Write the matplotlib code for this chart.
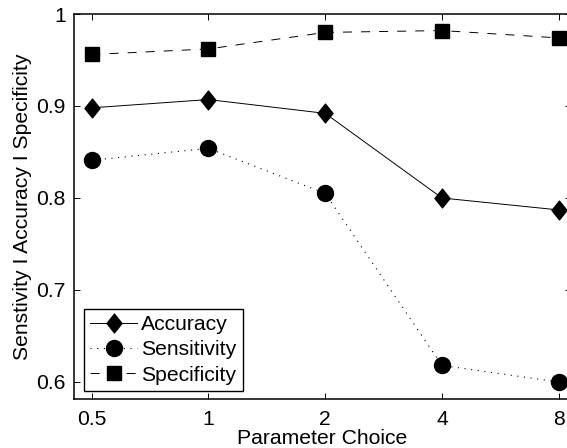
import matplotlib
matplotlib.use("Agg")
import matplotlib.pyplot as plt
from matplotlib.path import Path

params = [0.5, 1, 2, 4, 8]
tick_labels = ["0.5", "1", "2", "4", "8"]
accuracy = [0.898, 0.907, 0.892, 0.800, 0.787]
sensitivity = [0.841, 0.854, 0.805, 0.618, 0.600]
specificity = [0.956, 0.962, 0.980, 0.982, 0.974]

plt.rcParams['font.family'] = ['Liberation Sans', 'DejaVu Sans']
plt.rcParams['lines.scale_dashes'] = False
FS = 15.2

fig = plt.figure(figsize=(5.67, 4.48), dpi=100)
ax = fig.add_axes([74/567, 1-399/448, (571-74)/567, (399-14)/448])

diamond = Path([(0, 1), (0.8, 0), (0, -1), (-0.8, 0), (0, 1)],
               [Path.MOVETO, Path.LINETO, Path.LINETO, Path.LINETO, Path.CLOSEPOLY])

ax.plot(params, accuracy, color='black', lw=0.7, linestyle='-',
        marker=diamond, markersize=13.5, markerfacecolor='black', markeredgecolor='black',
        label='Accuracy', clip_on=False)
ax.plot(params, sensitivity, color='black', lw=0.8, linestyle=(0, (0.8, 4.0)),
        marker='o', markersize=11.5, markerfacecolor='black', markeredgecolor='black',
        label='Sensitivity', clip_on=False)
ax.plot(params, specificity, color='black', lw=0.7, linestyle=(0, (6.5, 6.5)),
        marker='s', markersize=9.5, markerfacecolor='black', markeredgecolor='black',
        label='Specificity', clip_on=False)

ax.set_xscale('log')
ax.set_xlim(0.4506, 8.60)
ax.set_ylim(0.5815, 1.0)
ax.set_xticks(params)
ax.set_xticklabels(tick_labels)
ax.minorticks_off()
ax.set_yticks([0.6, 0.7, 0.8, 0.9, 1.0])
ax.set_yticklabels(["0.6", "0.7", "0.8", "0.9", "1"])
ax.tick_params(axis='both', direction='in', length=4, width=0.7, top=True, right=True,
               labelsize=FS, colors='black')
ax.tick_params(axis='x', pad=8)
ax.tick_params(axis='y', pad=6)
for s in ax.spines.values():
    s.set_linewidth(1.1)

ax.set_xlabel('Parameter Choice', fontsize=FS, labelpad=0)
ax.set_ylabel('Senstivity I Accuracy I Specificity', fontsize=FS, labelpad=3)

leg = ax.legend(loc='lower left', bbox_to_anchor=(84/567, 1-391/448),
                bbox_transform=fig.transFigure, borderaxespad=0,
                fontsize=FS, frameon=True, fancybox=False, edgecolor='black',
                framealpha=1, handlelength=2.2, handletextpad=0.2,
                labelspacing=0.3, borderpad=0.3, numpoints=1)
leg.get_frame().set_linewidth(1.0)

fig.savefig('out.png', dpi=100)
